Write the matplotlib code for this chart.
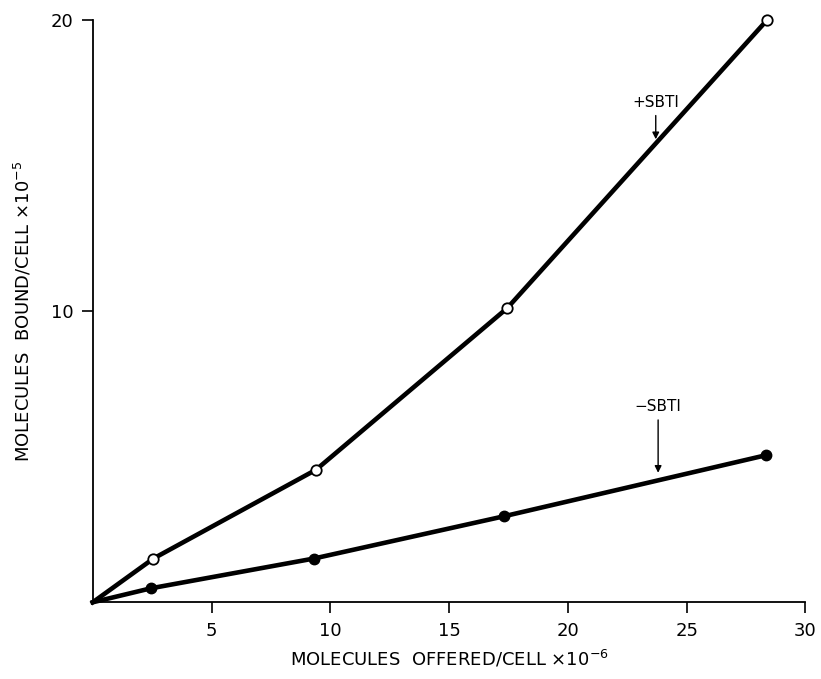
import matplotlib.pyplot as plt
import numpy as np

# molecules offered per cell (x10^-6)
x_plus = [0, 2.55, 9.4, 17.45, 28.4]
y_plus = [0, 1.5, 4.55, 10.1, 20.0]   # +SBTI, open circles

x_minus = [0, 2.45, 9.3, 17.3, 28.35]
y_minus = [0, 0.48, 1.5, 2.95, 5.05]   # -SBTI, filled circles

xticks = [5, 10, 15, 20, 25, 30]
yticks = [10, 20]

fig = plt.figure(figsize=(8.21, 6.79), dpi=100)
ax = fig.add_axes([0.113, 0.113, 0.868, 0.858])

ax.plot(x_plus, y_plus, color='black', lw=3.3, clip_on=False)
ax.plot(x_plus[1:], y_plus[1:], 'o', mfc='white', mec='black', ms=7.5, mew=1.3,
        clip_on=False, zorder=3)
ax.plot(x_minus, y_minus, color='black', lw=3.3, marker='o', ms=7.5,
        markevery=[1, 2, 3, 4], clip_on=False)

ax.set_xlim(0, 30)
ax.set_ylim(0, 20)
ax.set_xticks(xticks)
ax.set_yticks(yticks)
ax.tick_params(direction='out', length=8, width=1.2, labelsize=13, pad=6)
for s in ['top', 'right']:
    ax.spines[s].set_visible(False)
for s in ['left', 'bottom']:
    ax.spines[s].set_linewidth(1.3)

ax.set_xlabel(r'MOLECULES  OFFERED/CELL $\times$10$^{-6}$', fontsize=13, labelpad=6)
ax.set_ylabel(r'MOLECULES  BOUND/CELL $\times$10$^{-5}$', fontsize=13, labelpad=12)

ax.annotate('+SBTI', xy=(23.7, 15.8), xytext=(23.7, 16.9), ha='center', va='bottom',
            fontsize=11, arrowprops=dict(arrowstyle='-|>', color='black', lw=1, mutation_scale=10))
ax.annotate('\u2212SBTI', xy=(23.8, 4.35), xytext=(23.8, 6.45), ha='center', va='bottom',
            fontsize=11, arrowprops=dict(arrowstyle='-|>', color='black', lw=1, mutation_scale=10))

fig.savefig('out.png', dpi=100)
